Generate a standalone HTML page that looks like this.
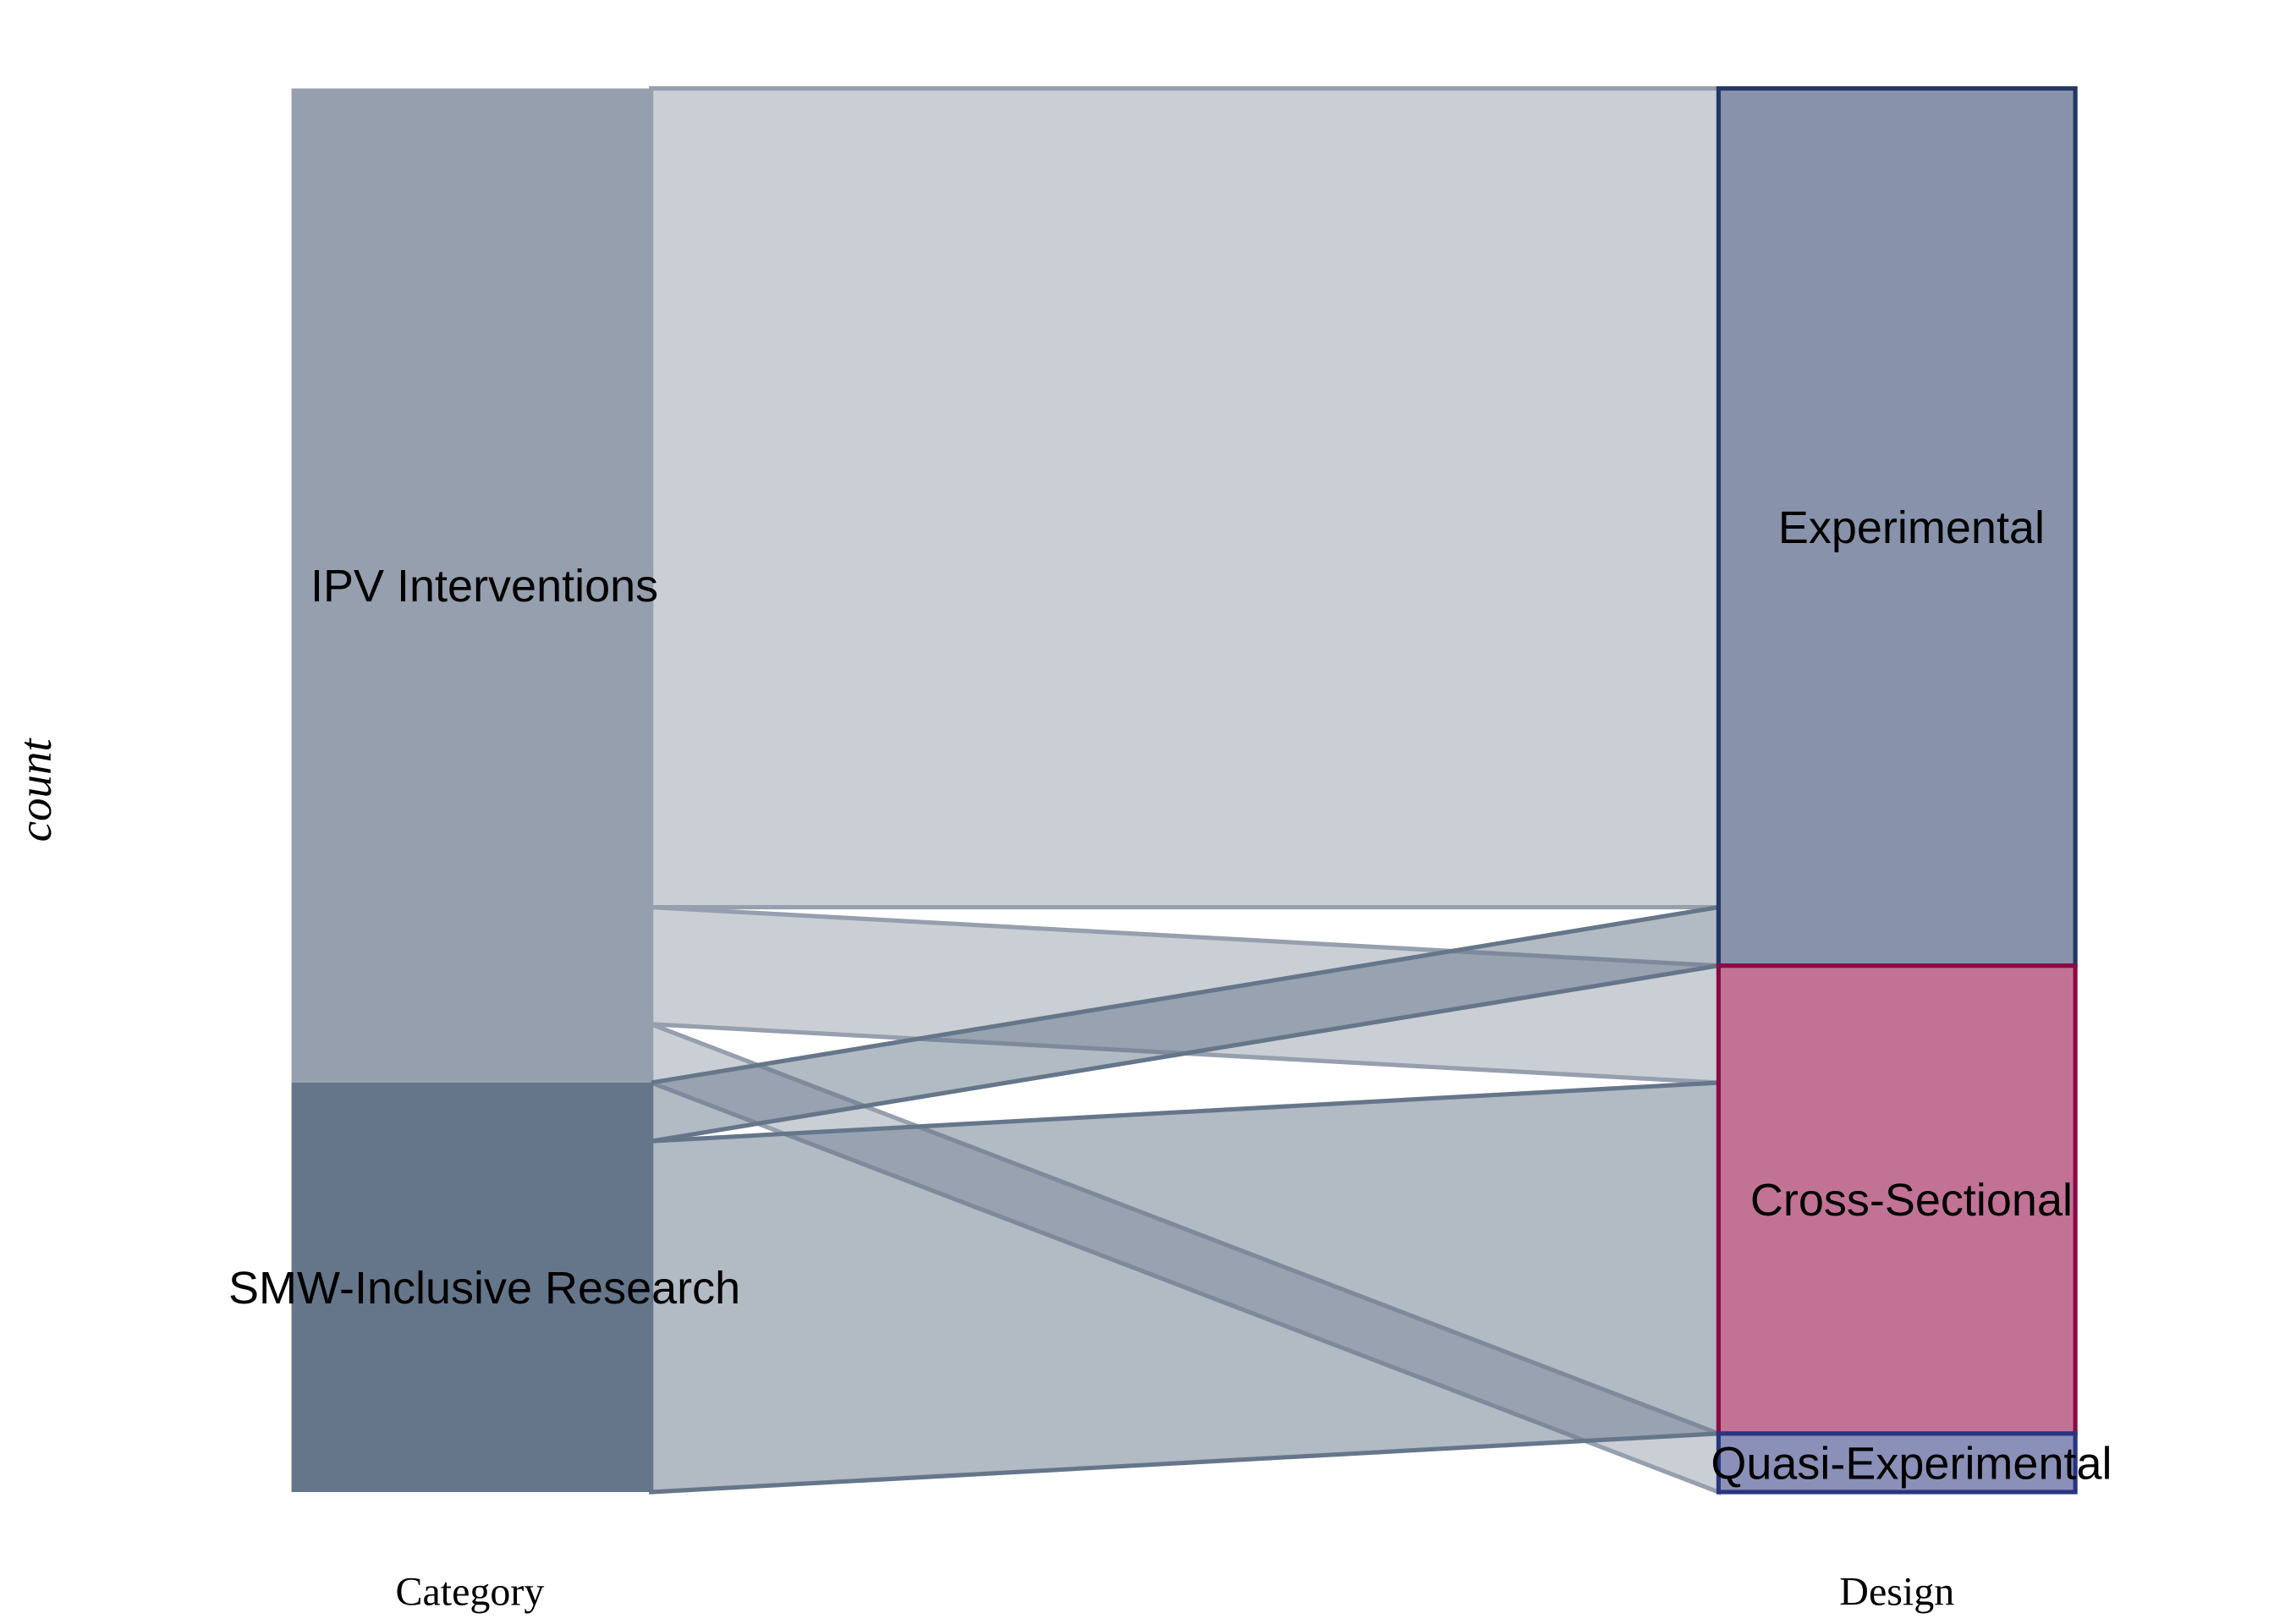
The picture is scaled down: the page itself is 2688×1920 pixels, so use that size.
<!DOCTYPE html>
<html><head><meta charset="utf-8"><style>
html,body{margin:0;padding:0;background:#fff;}
svg{display:block;}
text{font-family:"Liberation Sans",sans-serif;}
</style></head><body>
<svg id="chart" width="2688" height="1920" viewBox="0 0 1568 1120" preserveAspectRatio="none" xmlns="http://www.w3.org/2000/svg">
<g id="flows"></g>
<g id="nodes"></g>
<text x="35" y="545" transform="rotate(-90 35 545)" text-anchor="middle" font-size="32" font-style="italic" style="font-family:'Liberation Serif',serif">count</text>
<text x="324" y="1107" text-anchor="middle" font-size="28" style="font-family:'Liberation Serif',serif">Category</text>
<text x="1308" y="1107" text-anchor="middle" font-size="28" style="font-family:'Liberation Serif',serif">Design</text>
</svg>
<script>
const categories = ["IPV Interventions", "SMW-Inclusive Research"];
const designs = ["Experimental", "Cross-Sectional", "Quasi-Experimental"];
// flow counts [category][design]
const ipvCounts = [14, 2, 1];
const smwCounts = [1, 6, 0];

const NS = "http://www.w3.org/2000/svg";
const top0 = 61, bot0 = 1029;
const lx0 = 201, lx1 = 449, rx0 = 1185, rx1 = 1431;
const counts = [ipvCounts, smwCounts];
const total = counts.flat().reduce((a, b) => a + b, 0);
const k = (bot0 - top0) / total;
function y(v) { return top0 + v * k; }

const catFill = ["#969fad", "#66768a"];
const flowFill = ["#969fad", "#66768a"];
const flowStroke = ["#969fad", "#66768a"];
const desFill = ["#8893ab", "#c27295", "#8a90b7"];
const desStroke = ["#243764", "#8b0a44", "#2a3580"];

const catTot = counts.map(r => r.reduce((a, b) => a + b, 0));
const desTot = designs.map((d, j) => counts.reduce((a, r) => a + r[j], 0));
const catStart = []; let acc = 0;
catTot.forEach((t) => { catStart.push(acc); acc += t; });
const desStart = []; acc = 0;
desTot.forEach((t) => { desStart.push(acc); acc += t; });

const fg = document.getElementById("flows");
const ng = document.getElementById("nodes");
const rightPos = counts.map(() => []);
designs.forEach((d, j) => {
  let c = desStart[j];
  counts.forEach((r, i) => { rightPos[i][j] = c; c += r[j]; });
});
counts.forEach((r, i) => {
  let c = catStart[i];
  r.forEach((v, j) => {
    if (v > 0) {
      const l0 = y(c), l1 = y(c + v);
      const r0 = y(rightPos[i][j]), r1 = y(rightPos[i][j] + v);
      const p = document.createElementNS(NS, "polygon");
      p.setAttribute("points", `${lx1},${l0} ${rx0},${r0} ${rx0},${r1} ${lx1},${l1}`);
      p.setAttribute("fill", flowFill[i]);
      p.setAttribute("fill-opacity", "0.5");
      p.setAttribute("stroke", flowStroke[i]);
      p.setAttribute("stroke-width", "3");
      
      
      fg.appendChild(p);
    }
    c += v;
  });
});
categories.forEach((name, i) => {
  const rc = document.createElementNS(NS, "rect");
  rc.setAttribute("x", lx0); rc.setAttribute("y", y(catStart[i]));
  rc.setAttribute("width", lx1 - lx0); rc.setAttribute("height", catTot[i] * k);
  rc.setAttribute("fill", catFill[i]);
  
  
  ng.appendChild(rc);
  const t = document.createElementNS(NS, "text");
  t.setAttribute("x", 334); t.setAttribute("y", y(catStart[i] + catTot[i] / 2) + 11);
  t.setAttribute("text-anchor", "middle"); t.setAttribute("font-size", "31.5");
  t.textContent = name;
  
  
  ng.appendChild(t);
});
designs.forEach((name, j) => {
  const rc = document.createElementNS(NS, "rect");
  rc.setAttribute("x", rx0); rc.setAttribute("y", y(desStart[j]));
  rc.setAttribute("width", rx1 - rx0); rc.setAttribute("height", desTot[j] * k);
  rc.setAttribute("fill", desFill[j]); rc.setAttribute("stroke", desStroke[j]);
  rc.setAttribute("stroke-width", "3");
  
  
  ng.appendChild(rc);
  const t = document.createElementNS(NS, "text");
  t.setAttribute("x", 1318); t.setAttribute("y", y(desStart[j] + desTot[j] / 2) + 11);
  t.setAttribute("text-anchor", "middle"); t.setAttribute("font-size", "31.5");
  t.textContent = name;
  
  
  ng.appendChild(t);
});
</script>
</body></html>
